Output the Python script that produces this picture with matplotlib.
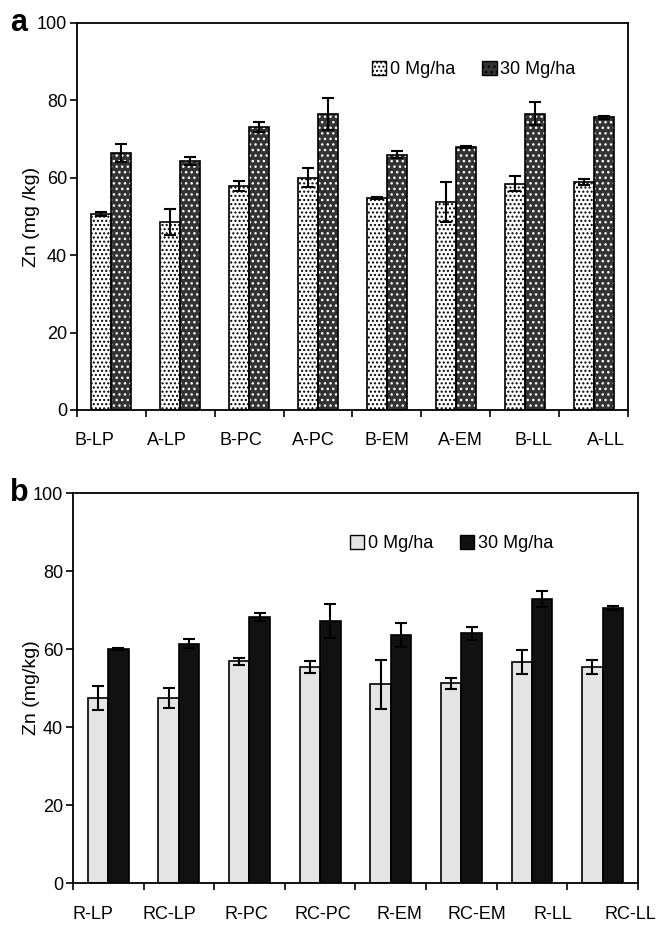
import numpy as np
import matplotlib.pyplot as plt
from matplotlib.transforms import blended_transform_factory

plt.rcParams['font.family'] = ['Liberation Sans', 'DejaVu Sans']
plt.rcParams['hatch.linewidth'] = 1.0

# panel a data
cats_a = ['B-LP', 'A-LP', 'B-PC', 'A-PC', 'B-EM', 'A-EM', 'B-LL', 'A-LL']
zn0_a = [50.6, 48.6, 57.9, 60.0, 54.8, 53.8, 58.5, 59.0]
err0_a = [0.6, 3.4, 1.2, 2.5, 0.2, 5.2, 2.0, 0.8]
zn30_a = [66.4, 64.3, 73.1, 76.5, 66.0, 68.0, 76.6, 75.6]
err30_a = [2.3, 1.1, 1.3, 4.2, 0.8, 0.3, 2.9, 0.3]

# panel b data
cats_b = ['R-LP', 'RC-LP', 'R-PC', 'RC-PC', 'R-EM', 'RC-EM', 'R-LL', 'RC-LL']
zn0_b = [47.4, 47.4, 56.9, 55.4, 51.0, 51.2, 56.7, 55.4]
err0_b = [3.0, 2.5, 0.9, 1.6, 6.3, 1.4, 3.0, 1.7]
zn30_b = [60.0, 61.4, 68.3, 67.2, 63.6, 64.0, 72.8, 70.5]
err30_b = [0.3, 1.1, 1.0, 4.3, 3.0, 1.6, 2.1, 0.5]

legend_labels = ['0 Mg/ha', '30 Mg/ha']

fig = plt.figure(figsize=(6.57, 9.25), dpi=100)
ax_a = fig.add_axes([0.117, 0.5568, 0.839, 0.4184])
ax_b = fig.add_axes([0.111, 0.0454, 0.860, 0.4216])


def hatched_bar(ax, x, h, w, face, hcol, hatch, label):
    # fill + coloured hatch, then a black outline on top
    ax.bar(x, h, w, color=face, edgecolor=hcol, hatch=hatch, linewidth=0, zorder=2)
    ax.bar(x, h, w, fill=False, edgecolor='black', linewidth=1.2, zorder=3)
    return ax.bar([0], [0], 0, color=face, edgecolor='black', hatch=hatch,
                  linewidth=1.0, label=label)


def draw_panel(ax, cats, v0, e0, v30, e30, styles, ylabel, letter,
               lab_start, lab_step, leg_anchor, ylab_x, letter_x):
    x = np.arange(len(cats)) + 0.5
    w = 0.29
    handles = []
    for vals, errs, dx, st, lab in [(v0, e0, -w / 2, styles[0], legend_labels[0]),
                                    (v30, e30, w / 2, styles[1], legend_labels[1])]:
        h = hatched_bar(ax, x + dx, vals, w, st[0], st[1], st[2], lab)
        handles.append(h)
        ax.errorbar(x + dx, vals, yerr=errs, fmt='none', ecolor='black',
                    elinewidth=1.5, capsize=4.3, capthick=1.5, zorder=4)

    ax.set_xlim(0, len(cats))
    ax.set_ylim(0, 100)
    ax.set_yticks(np.arange(0, 101, 20))
    ax.set_xticks(np.arange(0, len(cats) + 1))
    ax.set_xticklabels([])
    ax.tick_params(axis='both', direction='out', length=5, width=1.2, labelsize=13)
    ax.tick_params(axis='y', pad=2)
    for s in ax.spines.values():
        s.set_linewidth(1.3)
    ax.set_ylabel(ylabel, fontsize=14)
    ax.yaxis.set_label_coords(ylab_x, 0.5)

    tr = blended_transform_factory(ax.transData, ax.transAxes)
    for i, c in enumerate(cats):
        ax.text(lab_start + i * lab_step, -0.08, c, transform=tr,
                ha='center', va='center', fontsize=13)

    ax.text(letter_x, 1.0, letter, transform=ax.transAxes, fontsize=22,
            fontweight='bold', ha='center', va='center')

    ax.legend(handles=handles, loc='center', bbox_to_anchor=leg_anchor, ncol=2,
              frameon=False, fontsize=13, handlelength=0.8, handleheight=0.8,
              handletextpad=0.2, columnspacing=1.5)


draw_panel(ax_a, cats_a, zn0_a, err0_a, zn30_a, err30_a,
           [('white', 'black', '....'), ('#333333', 'white', '...')],
           'Zn (mg /kg)', 'a', 0.25, 1.062, (0.72, 0.88), -0.066, -0.105)
draw_panel(ax_b, cats_b, zn0_b, err0_b, zn30_b, err30_b,
           [('#e4e4e4', '#e4e4e4', None), ('#111111', '#111111', None)],
           'Zn (mg/kg)', 'b', 0.28, 1.087, (0.67, 0.87), -0.058, -0.095)

fig.savefig('out.png', dpi=100)
